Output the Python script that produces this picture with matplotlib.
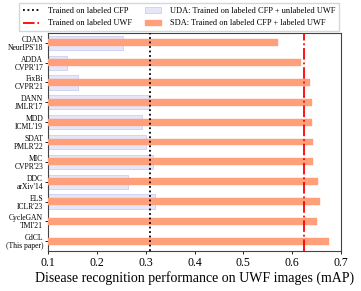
import matplotlib.pyplot as plt
from matplotlib.lines import Line2D
from matplotlib.patches import Patch
import numpy as np

plt.rcParams['font.family'] = ['Liberation Serif', 'DejaVu Serif']

methods = ["CDAN\nNeurIPS'18", "ADDA\nCVPR'17", "FixBi\nCVPR'21", "DANN\nJMLR'17",
           "MDD\nICML'19", "SDAT\nPMLR'22", "MIC\nCVPR'23", "DDC\narXiv'14",
           "ELS\nICLR'23", "CycleGAN\nTMI'21", "CdCL\n(This paper)"]
uda = [0.253, 0.139, 0.161, 0.306, 0.292, 0.300, 0.314, 0.263, 0.318, None, None]
sda = [0.570, 0.618, 0.636, 0.641, 0.641, 0.642, 0.643, 0.653, 0.656, 0.651, 0.676]
cfp_only = 0.309
uwf_only = 0.623

fig = plt.figure(figsize=(3.61, 2.91), dpi=100)
ax = fig.add_axes([0.133, 0.137, 0.812, 0.750])

y = np.arange(len(methods))
uda_vals = [v if v is not None else 0 for v in uda]
ax.barh(y, [v - 0.1 if v else 0 for v in uda_vals], left=0.1, height=0.72,
        color='#e6e6fa', edgecolor='#cdcdf2', linewidth=0.6, zorder=2)
ax.barh(y, [v - 0.1 for v in sda], left=0.1, height=0.34,
        color='#ffa07a', edgecolor='#ffa07a', linewidth=0.3, zorder=3)

ax.axvline(cfp_only, color='black', linestyle=(0, (1, 1.5)), linewidth=1.3, zorder=4)
ax.axvline(uwf_only, color='red', linestyle='-.', linewidth=1.3, zorder=4)

ax.set_xlim(0.1, 0.7)
ax.set_ylim(len(methods) - 0.5, -0.5)
ax.set_yticks(y)
ax.set_yticklabels(methods, fontsize=5.5, linespacing=1.0)
ax.set_xticks([0.1, 0.2, 0.3, 0.4, 0.5, 0.6, 0.7])
ax.tick_params(axis='x', labelsize=8.5, length=2.5, width=0.6, pad=2)
ax.tick_params(axis='y', length=2, width=0.6, pad=1.5)
ax.set_xlabel('Disease recognition performance on UWF images (mAP)', fontsize=10, labelpad=1)
for s in ax.spines.values():
    s.set_color('#444444')
    s.set_linewidth(0.8)

handles = [Line2D([], [], color='black', linestyle=(0, (1, 1.5)), linewidth=1.3),
           Line2D([], [], color='red', linestyle='-.', linewidth=1.3),
           Patch(facecolor='#e6e6fa', edgecolor='#cdcdf2', linewidth=0.6),
           Patch(facecolor='#ffa07a', edgecolor='#ffa07a')]
labels = ['Trained on labeled CFP', 'Trained on labeled UWF',
          'UDA: Trained on labeled CFP + unlabeled UWF',
          'SDA: Trained on labeled CFP + labeled UWF']
fig.legend(handles, labels, ncol=2, fontsize=6.0, loc='upper right',
           bbox_to_anchor=(0.945, 0.995), frameon=True, fancybox=False,
           edgecolor='#cccccc', handlelength=1.9, handletextpad=1.1,
           columnspacing=1.6, borderpad=0.45, labelspacing=0.55, borderaxespad=0.2)

fig.savefig('out.png', dpi=100)
